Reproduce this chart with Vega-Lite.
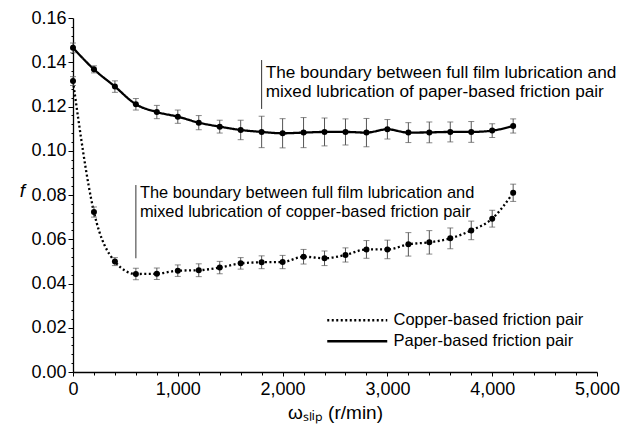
{
  "$schema": "https://vega.github.io/schema/vega-lite/v6.json",
  "autosize": {"type": "none"},
  "width": 524,
  "height": 354,
  "padding": {"left": 73, "top": 18, "right": 24, "bottom": 60},
  "background": "white",
  "config": {
    "view": {"stroke": null},
    "font": "Liberation Sans",
    "axis": {"domainColor": "black", "domainWidth": 1.3, "tickColor": "black", "tickWidth": 1, "labelColor": "black", "titleColor": "black", "grid": false, "labelFont": "Liberation Sans", "titleFont": "Liberation Sans", "titleFontWeight": "normal", "labelOverlap": false, "labelFlush": false, "labelBound": false}
  },
  "datasets": {
    "curves": [
      {"series": "Paper-based friction pair", "x": 0, "f": 0.1465, "e": 0.0022},
      {"series": "Paper-based friction pair", "x": 200, "f": 0.1368, "e": 0.0016},
      {"series": "Paper-based friction pair", "x": 400, "f": 0.129, "e": 0.0026},
      {"series": "Paper-based friction pair", "x": 600, "f": 0.121, "e": 0.0026},
      {"series": "Paper-based friction pair", "x": 800, "f": 0.1175, "e": 0.003},
      {"series": "Paper-based friction pair", "x": 1000, "f": 0.1154, "e": 0.003},
      {"series": "Paper-based friction pair", "x": 1200, "f": 0.1127, "e": 0.0032},
      {"series": "Paper-based friction pair", "x": 1400, "f": 0.1109, "e": 0.0029},
      {"series": "Paper-based friction pair", "x": 1600, "f": 0.1094, "e": 0.0044},
      {"series": "Paper-based friction pair", "x": 1800, "f": 0.1085, "e": 0.0071},
      {"series": "Paper-based friction pair", "x": 2000, "f": 0.1079, "e": 0.0066},
      {"series": "Paper-based friction pair", "x": 2200, "f": 0.1082, "e": 0.0068},
      {"series": "Paper-based friction pair", "x": 2400, "f": 0.1085, "e": 0.0063},
      {"series": "Paper-based friction pair", "x": 2600, "f": 0.1085, "e": 0.0059},
      {"series": "Paper-based friction pair", "x": 2800, "f": 0.1082, "e": 0.0064},
      {"series": "Paper-based friction pair", "x": 3000, "f": 0.1097, "e": 0.0044},
      {"series": "Paper-based friction pair", "x": 3200, "f": 0.1082, "e": 0.0045},
      {"series": "Paper-based friction pair", "x": 3400, "f": 0.1083, "e": 0.0047},
      {"series": "Paper-based friction pair", "x": 3600, "f": 0.1085, "e": 0.0045},
      {"series": "Paper-based friction pair", "x": 3800, "f": 0.1085, "e": 0.0047},
      {"series": "Paper-based friction pair", "x": 4000, "f": 0.1091, "e": 0.0031},
      {"series": "Paper-based friction pair", "x": 4200, "f": 0.1112, "e": 0.0032},
      {"series": "Copper-based friction pair", "x": 0, "f": 0.1315, "e": 0.002},
      {"series": "Copper-based friction pair", "x": 200, "f": 0.0723, "e": 0.0023},
      {"series": "Copper-based friction pair", "x": 400, "f": 0.0499, "e": 0.0018},
      {"series": "Copper-based friction pair", "x": 600, "f": 0.0443, "e": 0.0026},
      {"series": "Copper-based friction pair", "x": 800, "f": 0.0444, "e": 0.0026},
      {"series": "Copper-based friction pair", "x": 1000, "f": 0.0458, "e": 0.0026},
      {"series": "Copper-based friction pair", "x": 1200, "f": 0.046, "e": 0.0029},
      {"series": "Copper-based friction pair", "x": 1400, "f": 0.0472, "e": 0.0028},
      {"series": "Copper-based friction pair", "x": 1600, "f": 0.0491, "e": 0.0026},
      {"series": "Copper-based friction pair", "x": 1800, "f": 0.0496, "e": 0.0029},
      {"series": "Copper-based friction pair", "x": 2000, "f": 0.0497, "e": 0.003},
      {"series": "Copper-based friction pair", "x": 2200, "f": 0.0521, "e": 0.0033},
      {"series": "Copper-based friction pair", "x": 2400, "f": 0.0514, "e": 0.0033},
      {"series": "Copper-based friction pair", "x": 2600, "f": 0.0529, "e": 0.0032},
      {"series": "Copper-based friction pair", "x": 2800, "f": 0.0554, "e": 0.004},
      {"series": "Copper-based friction pair", "x": 3000, "f": 0.0554, "e": 0.0042},
      {"series": "Copper-based friction pair", "x": 3200, "f": 0.0577, "e": 0.0053},
      {"series": "Copper-based friction pair", "x": 3400, "f": 0.0586, "e": 0.0053},
      {"series": "Copper-based friction pair", "x": 3600, "f": 0.0604, "e": 0.0047},
      {"series": "Copper-based friction pair", "x": 3800, "f": 0.064, "e": 0.0042},
      {"series": "Copper-based friction pair", "x": 4000, "f": 0.0693, "e": 0.0038},
      {"series": "Copper-based friction pair", "x": 4200, "f": 0.081, "e": 0.0039}
    ],
    "notes": [
      {"which": "paper", "x": 1800, "f1": 0.141, "f2": 0.1189, "ft": 0.1393, "label": ["The boundary between full film lubrication and", "mixed lubrication of paper-based friction pair"]},
      {"which": "copper", "x": 600, "f1": 0.0845, "f2": 0.0514, "ft": 0.0843, "label": ["The boundary between full film lubrication and", "mixed lubrication of copper-based friction pair"]}
    ]
  },
  "resolve": {"axis": {"x": "independent", "y": "independent"}},
  "layer": [
    {
      "data": {"name": "curves"},
      "mark": {"type": "line", "color": "black", "strokeWidth": 2.3, "interpolate": "monotone"},
      "encoding": {
        "x": {
          "field": "x", "type": "quantitative",
          "scale": {"domain": [0, 5000], "nice": false},
          "axis": {
            "orient": "bottom",
            "values": [0, 1000, 2000, 3000, 4000, 5000],
            "format": ",d",
            "labelFontSize": 18,
            "labelPadding": 4,
            "tickSize": 4,
            "title": "ωₛₗᵢₚ (r/min)",
            "titleFontSize": 19,
            "titlePadding": 5
          }
        },
        "y": {
          "field": "f", "type": "quantitative",
          "scale": {"domain": [0, 0.16], "nice": false},
          "axis": {
            "orient": "left",
            "values": [0, 0.02, 0.04, 0.06, 0.08, 0.1, 0.12, 0.14, 0.16],
            "format": ".2f",
            "labelFontSize": 18,
            "labelPadding": 2,
            "tickSize": 5,
            "title": "f",
            "titleFontSize": 19,
            "titleFontStyle": "italic",
            "titleAngle": 0,
            "titleX": -51,
            "titleY": 172,
            "titleAlign": "center",
            "titleBaseline": "middle"
          }
        },
        "strokeDash": {
          "field": "series", "type": "nominal",
          "scale": {"domain": ["Copper-based friction pair", "Paper-based friction pair"], "range": [[2, 2.5], [1, 0]]},
          "legend": {
            "orient": "none", "legendX": 276, "legendY": 294, "title": null,
            "symbolType": "M-6,0H6", "symbolSize": 100, "symbolStrokeWidth": 2.3, "symbolStrokeColor": "black",
            "labelFontSize": 16.5, "labelColor": "black", "labelFont": "Liberation Sans", "labelOffset": 28, "labelLimit": 400, "rowPadding": 4
          }
        }
      }
    },
    {
      "data": {"name": "curves"},
      "mark": {"type": "point", "opacity": 0},
      "encoding": {
        "x": {
          "field": "x", "type": "quantitative",
          "axis": {
            "orient": "bottom",
            "values": [200, 400, 600, 800, 1200, 1400, 1600, 1800, 2200, 2400, 2600, 2800, 3200, 3400, 3600, 3800, 4200, 4400, 4600, 4800],
            "labels": false, "domain": false, "tickSize": 3, "title": null
          }
        },
        "y": {
          "field": "f", "type": "quantitative",
          "axis": {
            "orient": "left",
            "values": [0.004, 0.008, 0.012, 0.016, 0.024, 0.028, 0.032, 0.036, 0.044, 0.048, 0.052, 0.056, 0.064, 0.068, 0.072, 0.076, 0.084, 0.088, 0.092, 0.096, 0.104, 0.108, 0.112, 0.116, 0.124, 0.128, 0.132, 0.136, 0.144, 0.148, 0.152, 0.156],
            "labels": false, "domain": false, "tickSize": 2, "title": null
          }
        }
      }
    },
    {
      "data": {"name": "curves"},
      "mark": {"type": "errorbar", "ticks": {"size": 6, "color": "#555555", "strokeWidth": 1}, "rule": {"color": "#555555", "strokeWidth": 1}},
      "encoding": {
        "x": {"field": "x", "type": "quantitative", "axis": null},
        "y": {"field": "f", "type": "quantitative", "axis": null},
        "yError": {"field": "e"},
        "detail": {"field": "series"}
      }
    },
    {
      "data": {"name": "curves"},
      "mark": {"type": "point", "filled": true, "color": "black", "size": 36, "opacity": 1},
      "encoding": {
        "x": {"field": "x", "type": "quantitative", "axis": null},
        "y": {"field": "f", "type": "quantitative", "axis": null}
      }
    },
    {
      "data": {"name": "notes"},
      "mark": {"type": "rule", "color": "#333333", "strokeWidth": 1},
      "encoding": {
        "x": {"field": "x", "type": "quantitative", "axis": null},
        "y": {"field": "f1", "type": "quantitative", "axis": null},
        "y2": {"field": "f2"}
      }
    },
    {
      "data": {"name": "notes"},
      "transform": [{"filter": "datum.which === 'paper'"}],
      "mark": {"type": "text", "align": "left", "baseline": "top", "dx": 4, "fontSize": 17.2, "lineHeight": 19.5, "color": "black", "font": "Liberation Sans"},
      "encoding": {
        "x": {"field": "x", "type": "quantitative", "axis": null},
        "y": {"field": "ft", "type": "quantitative", "axis": null},
        "text": {"field": "label"}
      }
    },
    {
      "data": {"name": "notes"},
      "transform": [{"filter": "datum.which === 'copper'"}],
      "mark": {"type": "text", "align": "left", "baseline": "top", "dx": 4, "fontSize": 16.4, "lineHeight": 19, "color": "black", "font": "Liberation Sans"},
      "encoding": {
        "x": {"field": "x", "type": "quantitative", "axis": null},
        "y": {"field": "ft", "type": "quantitative", "axis": null},
        "text": {"field": "label"}
      }
    }
  ]
}
